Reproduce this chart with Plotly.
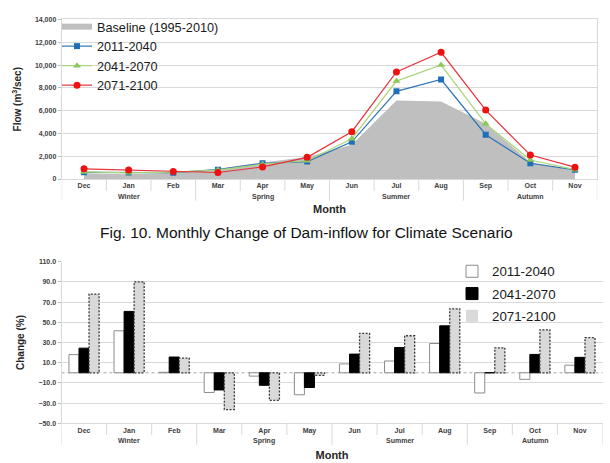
import plotly.graph_objects as go

# ---------------- data ----------------
months = ["Dec", "Jan", "Feb", "Mar", "Apr", "May", "Jun", "Jul", "Aug", "Sep", "Oct", "Nov"]
seasons = ["Winter", "Spring", "Summer", "Autumn"]
season_len = [3, 3, 3, 3]

baseline = [500, 420, 560, 900, 1450, 1930, 3000, 6880, 6800, 4850, 1460, 750]
flow_2011_2040 = [590, 570, 560, 820, 1380, 1530, 3260, 7690, 8730, 3890, 1380, 810]
flow_2041_2070 = [620, 540, 610, 780, 1300, 1600, 3540, 8590, 10000, 4840, 1670, 820]
flow_2071_2100 = [890, 790, 650, 570, 1060, 1900, 4150, 9390, 11120, 6050, 2100, 1040]

chg_2011_2040 = [18.0, 41.6, 0.5, -19.5, -3.3, -21.8, 8.8, 11.7, 29.0, -20.0, -6.5, 7.5]
chg_2041_2070 = [24.4, 60.8, 15.6, -17.0, -12.4, -14.6, 18.5, 25.0, 46.5, 0.0, 18.2, 15.3]
chg_2071_2100 = [78.0, 90.0, 14.6, -36.4, -27.3, -2.6, 39.0, 36.7, 63.4, 24.7, 42.6, 34.8]

flow_ticks = [0, 2000, 4000, 6000, 8000, 10000, 12000, 14000]
chg_ticks = [-50, -30, -10, 10, 30, 50, 70, 90, 110]

# ---------------- layout helpers ----------------
W, H = 610, 463
FONT = "Liberation Sans, Arial, sans-serif"
GRID = "#d9d9d9"
LABEL = "#404040"


def py(p):
    """pixel y (from top) -> paper y"""
    return 1 - p / H


def px(p):
    return p / W


idx = list(range(len(months)))

# pixel geometry
T_TOP, T_BOT = 15.7, 177.7
T_L, T_R = 61.7, 597.3
B_TOP, B_BOT = 261.7, 425.7
B_L, B_R = 61.5, 602.5

fig = go.Figure()

# ---------------- top chart ----------------
fig.add_trace(go.Scatter(x=idx, y=baseline, name="Baseline (1995-2010)", mode="none",
                         fill="tozeroy", fillcolor="#bfbfbf", legend="legend",
                         legendgroup="b", xaxis="x", yaxis="y"))
fig.add_trace(go.Scatter(x=idx, y=flow_2011_2040, name="2011-2040", mode="lines+markers",
                         line=dict(color="#2e75b6", width=1.2),
                         marker=dict(symbol="square", size=6, color="#1f6fb8"),
                         legend="legend", legendgroup="s1", xaxis="x", yaxis="y"))
fig.add_trace(go.Scatter(x=idx, y=flow_2041_2070, name="2041-2070", mode="lines+markers",
                         line=dict(color="#a9d67a", width=1.2),
                         marker=dict(symbol="triangle-up", size=7, color="#8cc85a"),
                         legend="legend", legendgroup="s2", xaxis="x", yaxis="y"))
fig.add_trace(go.Scatter(x=idx, y=flow_2071_2100, name="2071-2100", mode="lines+markers",
                         line=dict(color="#e8323a", width=1.2),
                         marker=dict(symbol="circle", size=7, color="#ee1111"),
                         legend="legend", legendgroup="s3", xaxis="x", yaxis="y"))

# ---------------- bottom chart ----------------
BW = 0.223
offs = [-0.335, -0.112, 0.111]
fig.add_trace(go.Bar(x=idx, y=chg_2011_2040, name="2011-2040", width=BW, offset=offs[0],
                     marker=dict(color="white", line=dict(color="#8c8c8c", width=1)),
                     legend="legend2", legendgroup="c1", xaxis="x2", yaxis="y2"))
fig.add_trace(go.Bar(x=idx, y=chg_2041_2070, name="2041-2070", width=BW, offset=offs[1],
                     marker=dict(color="black", line=dict(color="black", width=1)),
                     legend="legend2", legendgroup="c2", xaxis="x2", yaxis="y2"))
fig.add_trace(go.Bar(x=idx, y=chg_2071_2100, name="2071-2100", width=BW, offset=offs[2],
                     marker=dict(color="#d9d9d9", line=dict(color="#d9d9d9", width=0)),
                     legend="legend2", legendgroup="c3", xaxis="x2", yaxis="y2"))
# dashed outline of the 2071-2100 bars (derived from the data)
ox, oy = [], []
for i, v in zip(idx, chg_2071_2100):
    x0 = i + offs[2]
    x1 = x0 + BW
    ox += [x0, x0, x1, x1, x0, None]
    oy += [0, v, v, 0, 0, None]
fig.add_trace(go.Scatter(x=ox, y=oy, mode="lines", showlegend=False, hoverinfo="skip",
                         line=dict(color="#3a3a3a", width=1.3, dash="2px,1.5px"),
                         xaxis="x2", yaxis="y2"))

tickfont = dict(family=FONT, size=7, color=LABEL, weight="bold")
titlefont = dict(family=FONT, size=10, color="#262626", weight="bold")
monthfont = dict(family=FONT, size=11, color="#262626", weight="bold")

fig.update_layout(
    width=W, height=H, margin=dict(l=0, r=0, t=0, b=0),
    paper_bgcolor="white", plot_bgcolor="white",
    barmode="overlay", showlegend=True,
    font=dict(family=FONT),
    xaxis=dict(domain=[px(T_L), px(T_R)], range=[-0.5, 11.5], tickvals=idx, ticktext=months,
               tickfont=tickfont, showgrid=False, zeroline=False, showline=True,
               linecolor=GRID, mirror=True, ticks="", anchor="y",
               title=dict(text="Month", font=monthfont, standoff=15.5)),
    yaxis=dict(domain=[py(T_BOT), py(T_TOP)], range=[0, 14000], tickvals=flow_ticks,
               tickformat=",", tickfont=tickfont, gridcolor=GRID, showline=True, linecolor=GRID,
               mirror=True, ticks="outside", ticklen=3, tickcolor="#bfbfbf", zeroline=False,
               anchor="x",
               title=dict(text="Flow (m<sup>3</sup>/sec)", font=titlefont, standoff=11)),
    xaxis2=dict(domain=[px(B_L), px(B_R)], range=[-0.5, 11.5], tickvals=idx, ticktext=months,
                tickfont=tickfont, showgrid=False, zeroline=False, showline=True,
                linecolor=GRID, ticks="", anchor="y2",
                title=dict(text="Month", font=monthfont, standoff=17)),
    yaxis2=dict(domain=[py(B_BOT), py(B_TOP)], range=[-50, 110], tickvals=chg_ticks,
                tickformat=".1f", tickfont=tickfont, gridcolor=GRID, showline=True,
                linecolor=GRID, ticks="outside", ticklen=3, tickcolor="#bfbfbf",
                zeroline=False, anchor="x2",
                title=dict(text="Change (%)", font=titlefont, standoff=11)),
    legend=dict(x=px(57), y=py(8), xanchor="left", yanchor="top", bgcolor="rgba(0,0,0,0)",
                font=dict(family=FONT, size=12.7, color="#1a1a1a"), traceorder="grouped",
                tracegroupgap=0, itemwidth=30),
    legend2=dict(x=px(452), y=py(256), xanchor="left", yanchor="top", bgcolor="rgba(0,0,0,0)",
                 font=dict(family=FONT, size=13.3, color="#1a1a1a"), traceorder="grouped",
                 tracegroupgap=2, itemwidth=30),
)

# ---------------- category axis decorations (dividers, season labels) ----------------
shapes = []
annotations = []


def cat_axis(xref, axis_px):
    bounds = [k - 0.5 for k in range(len(months) + 1)]
    season_bounds = [-0.5]
    acc = -0.5
    for n in season_len:
        acc += n
        season_bounds.append(acc)
    for b in bounds:
        depth = 22 if b in season_bounds else 12
        shapes.append(dict(type="line", xref=xref, yref="paper", x0=b, x1=b,
                           y0=py(axis_px), y1=py(axis_px + depth),
                           line=dict(color=GRID, width=1)))
    start = 0
    for s, n in zip(seasons, season_len):
        annotations.append(dict(text=s, xref=xref, yref="paper", x=start + (n - 1) / 2,
                                y=py(axis_px + 17.8), showarrow=False, font=tickfont,
                                xanchor="center", yanchor="middle"))
        start += n


cat_axis("x", T_BOT)
cat_axis("x2", B_BOT)

# dotted zero line of the bottom chart
shapes.append(dict(type="line", xref="x2 domain", yref="y2", x0=0, x1=1, y0=0, y1=0,
                   line=dict(color="#a6a6a6", width=1, dash="dot"), layer="below"))

annotations.append(dict(text="Fig. 10. Monthly Change of Dam-inflow for Climate Scenario",
                        xref="paper", yref="paper", x=0.502, y=py(232), showarrow=False,
                        font=dict(family=FONT, size=15.5, color="#111111"),
                        xanchor="center", yanchor="middle"))

fig.update_layout(shapes=shapes, annotations=annotations)

fig.write_html("out.html")
